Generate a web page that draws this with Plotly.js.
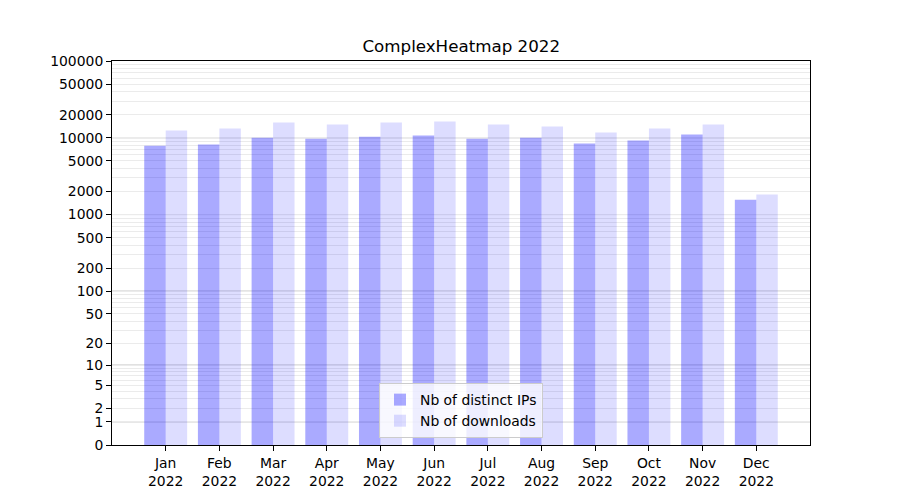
<!DOCTYPE html>
<html>
<head>
<meta charset="utf-8">
<script src="https://cdn.plot.ly/plotly-3.0.1.min.js"></script>
<style>html,body{margin:0;padding:0;background:#fff;}#chart{width:900px;height:500px;}</style>
</head>
<body>
<div id="chart"></div>
<script>
// ---- data ----
const months = ["Jan", "Feb", "Mar", "Apr", "May", "Jun", "Jul", "Aug", "Sep", "Oct", "Nov", "Dec"];
const year = "2022";
const distinctIPs = [7900, 8150, 10050, 9750, 10350, 10700, 9750, 10050, 8400, 9200, 11000, 1560];
const downloads = [12400, 13200, 15800, 14900, 15800, 16300, 14900, 14000, 11700, 13200, 14900, 1820];
const yTickValues = [0, 1, 2, 5, 10, 20, 50, 100, 200, 500, 1000, 2000, 5000, 10000, 20000, 50000, 100000];
const decades = [1, 10, 100, 1000, 10000];
const minorMultipliers = [3, 4, 6, 7, 8, 9];

// ---- scale: log10(1 + y) ----
const tf = v => Math.log10(1 + v);
const xLabels = months.map(m => m + "<br>" + year);

const minorVals = [];
decades.forEach(d => minorMultipliers.forEach(k => minorVals.push(tf(k * d))));

const font = {family: "DejaVu Sans, sans-serif", size: 13.9, color: "#000"};

const traces = [
  {
    type: "bar", name: "Nb of distinct IPs",
    x: xLabels, y: distinctIPs.map(tf),
    marker: {color: "rgba(0,0,255,0.333)", line: {width: 0}},
    hoverinfo: "skip"
  },
  {
    type: "bar", name: "Nb of downloads",
    x: xLabels, y: downloads.map(tf),
    marker: {color: "rgba(0,0,255,0.135)", line: {width: 0}},
    hoverinfo: "skip"
  }
];

const shapes = decades.map(d => ({
  type: "line", xref: "paper", yref: "y", x0: 0, x1: 1, y0: tf(d), y1: tf(d),
  line: {color: "#c0c0c0", width: 1}, layer: "below"
}));

const layout = {
  width: 900, height: 500,
  margin: {l: 112, r: 90, t: 61, b: 55, pad: 0},
  paper_bgcolor: "#fff", plot_bgcolor: "#fff",
  font: font,
  title: {text: "ComplexHeatmap 2022", font: {family: "DejaVu Sans, sans-serif", size: 16.7, color: "#000"},
          x: 0.5125, xanchor: "center", y: 0.908, yanchor: "middle", yref: "container"},
  barmode: "group", bargap: 0.2, bargroupgap: 0,
  showlegend: true,
  legend: {x: 0.5, xanchor: "center", y: 0.018, yanchor: "bottom",
           bgcolor: "rgba(255,255,255,0.8)", bordercolor: "#cccccc", borderwidth: 1,
           font: font, tracegroupgap: 0, traceorder: "normal"},
  xaxis: {
    type: "category", range: [-1, 12],
    showline: true, mirror: true, linecolor: "#000", linewidth: 1,
    ticks: "outside", ticklen: 5, tickwidth: 1, tickcolor: "#000",
    showgrid: false, zeroline: false, tickfont: font, fixedrange: true
  },
  yaxis: {
    range: [0, tf(100000)],
    tickmode: "array",
    tickvals: yTickValues.map(tf),
    ticktext: yTickValues.map(String),
    showline: true, mirror: true, linecolor: "#000", linewidth: 1,
    ticks: "outside", ticklen: 5, tickwidth: 1, tickcolor: "#000",
    showgrid: true, gridcolor: "#ebebeb", gridwidth: 1,
    minor: {tickmode: "array", tickvals: minorVals, showgrid: true, gridcolor: "#ebebeb", gridwidth: 1, ticks: ""},
    zeroline: false, tickfont: font, fixedrange: true
  },
  shapes: shapes
};

Plotly.newPlot("chart", traces, layout, {displayModeBar: false, staticPlot: true});
</script>
</body>
</html>
